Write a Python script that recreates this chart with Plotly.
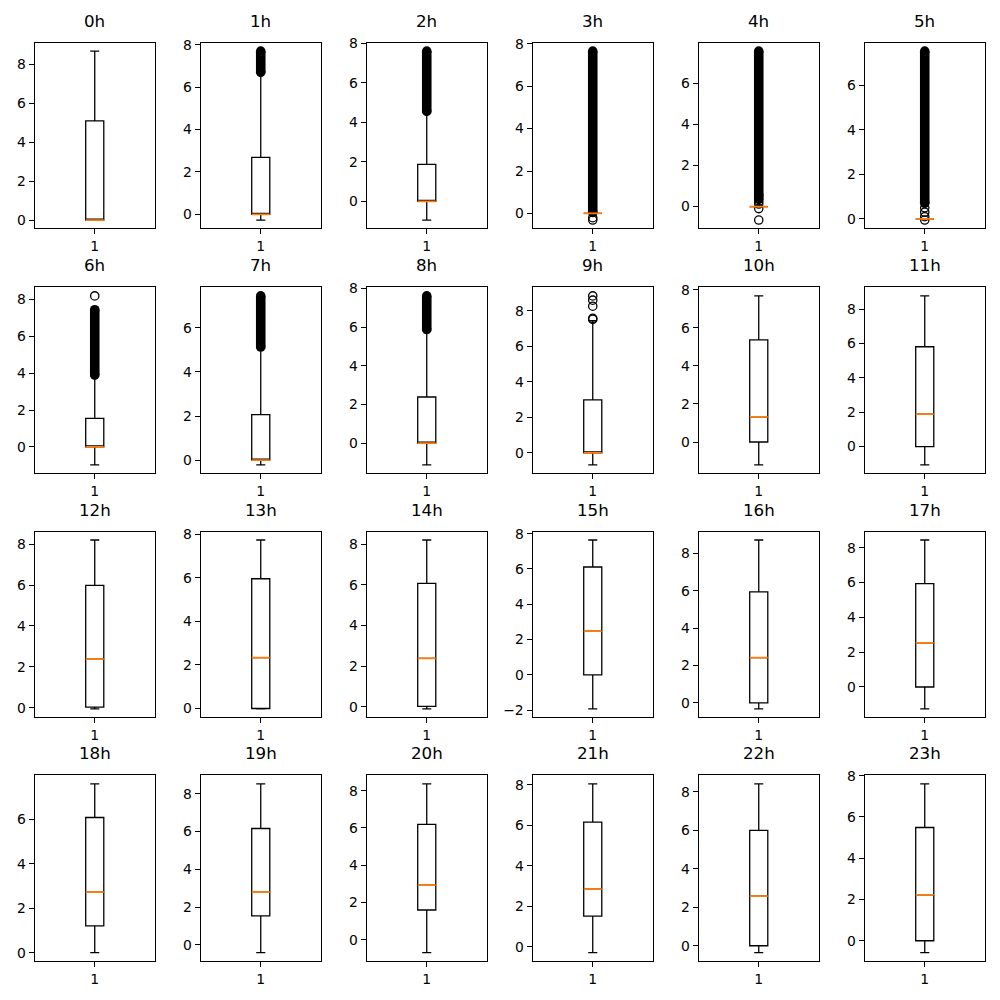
import plotly.graph_objects as go

hours = [f"{h}h" for h in range(24)]

lower_whisker = [0.00, -0.27, -0.95, 0.00, 0.00, 0.00, -0.97, -0.21, -1.12, -0.67, -1.20, -1.06,
                 -0.05, -0.02, -0.10, -1.93, -0.32, -1.26, 0.00, -0.42, -0.69, -0.29, -0.36, -0.58]
q1 = [0, 0, 0, 0, 0, 0, 0, 0, 0, 0, 0, 0,
      0.04, 0, 0.02, 0, 0, 0, 1.21, 1.53, 1.60, 1.52, 0, 0]
median = [0, 0, 0, 0, 0, 0, 0, 0, 0, 0, 1.32, 1.89,
          2.38, 2.34, 2.38, 2.48, 2.43, 2.54, 2.73, 2.79, 2.93, 2.85, 2.58, 2.22]
q3 = [5.08, 2.69, 1.87, 0, 0, 0, 1.55, 2.07, 2.39, 2.99, 5.37, 5.81,
      5.98, 5.96, 6.07, 6.11, 5.94, 5.94, 6.09, 6.16, 6.19, 6.16, 5.99, 5.49]
upper_whisker = [8.66, 6.65, 4.50, 0, 0, 0, 3.85, 5.08, 5.83, 7.45, 7.68, 8.77,
                 8.20, 7.74, 8.20, 7.64, 8.72, 8.45, 7.61, 8.53, 8.37, 8.05, 8.41, 7.61]

# dense outlier clouds (min, max of the densely packed flier column)
outlier_band_lo = [None, 6.70, 4.55, 0.05, 0.35, 0.70, 3.90, 5.13, 5.88] + [None] * 15
outlier_band_hi = [None, 7.70, 7.60, 7.65, 7.58, 7.52, 7.45, 7.45, 7.62] + [None] * 15
# isolated outliers
outliers = [[], [], [], [-0.31, -0.20], [0.55, 0.25, 0.12, -0.10, -0.66], [0.50, 0.30, 0.10, -0.05],
            [8.20], [], [], [7.52, 7.58, 8.26, 8.60, 8.84], [], [],
            [], [], [], [], [], [], [], [], [], [], [], []]

W, H = 1000, 1000
col_left = [34.5, 200.5, 366.5, 532.5, 698.5, 864.5]
ax_w = 120.5
row_top = [35.0, 282.0, 528.3, 774.3]
ax_h = 187.5
BOX_W = 0.15

fig = go.Figure()
annotations = []
layout = {}
for i in range(24):
    r, c = divmod(i, 6)
    n = i + 1
    xa = "x" if n == 1 else f"x{n}"
    ya = "y" if n == 1 else f"y{n}"
    xkey = "xaxis" if n == 1 else f"xaxis{n}"
    ykey = "yaxis" if n == 1 else f"yaxis{n}"

    vals = [lower_whisker[i], upper_whisker[i]] + outliers[i]
    if outlier_band_lo[i] is not None:
        vals += [outlier_band_lo[i], outlier_band_hi[i]]
    lo, hi = min(vals), max(vals)
    span = hi - lo
    yr = [lo - 0.05 * span, hi + 0.05 * span]

    fig.add_trace(go.Box(
        x=[1], q1=[q1[i]], median=[median[i]], q3=[q3[i]],
        lowerfence=[lower_whisker[i]], upperfence=[upper_whisker[i]],
        width=BOX_W, whiskerwidth=0.5, boxpoints=False,
        line=dict(color="black", width=1.3), fillcolor="rgba(255,255,255,0)",
        xaxis=xa, yaxis=ya, showlegend=False, hoverinfo="skip"))

    if outlier_band_lo[i] is not None:
        fig.add_trace(go.Scatter(
            x=[1, 1], y=[outlier_band_lo[i], outlier_band_hi[i]], mode="lines+markers",
            line=dict(color="black", width=9.6),
            marker=dict(symbol="circle", size=9.6, color="black"),
            xaxis=xa, yaxis=ya, showlegend=False, hoverinfo="skip"))
    if outliers[i]:
        fig.add_trace(go.Scatter(
            x=[1] * len(outliers[i]), y=outliers[i], mode="markers",
            marker=dict(symbol="circle-open", size=8.3, color="black", line=dict(width=1.3)),
            xaxis=xa, yaxis=ya, showlegend=False, hoverinfo="skip"))

    fig.add_trace(go.Scatter(
        x=[1 - BOX_W / 2, 1 + BOX_W / 2], y=[median[i], median[i]], mode="lines",
        line=dict(color="#ff7f0e", width=1.7),
        xaxis=xa, yaxis=ya, showlegend=False, hoverinfo="skip"))

    x0 = col_left[c] / W
    x1 = (col_left[c] + ax_w) / W
    y1 = 1 - row_top[r] / H
    y0 = 1 - (row_top[r] + ax_h) / H
    common = dict(showline=True, mirror=True, linecolor="black", linewidth=1,
                  ticks="outside", ticklen=5, tickwidth=1, tickcolor="black",
                  showgrid=False, zeroline=False,
                  tickfont=dict(family="DejaVu Sans", size=13.9, color="black"))
    layout[xkey] = dict(domain=[x0, x1], range=[0.5, 1.5], tickmode="array",
                        tickvals=[1], ticktext=["1"], anchor=ya, **common)
    layout[ykey] = dict(domain=[y0, y1], range=yr, tick0=0, dtick=2, anchor=xa, **common)

    annotations.append(dict(text=hours[i], x=(x0 + x1) / 2, y=y1, xref="paper", yref="paper",
                            xanchor="center", yanchor="bottom", yshift=10, showarrow=False,
                            font=dict(family="DejaVu Sans", size=16.7, color="black")))

fig.update_layout(width=W, height=H, margin=dict(l=0, r=0, t=0, b=0),
                  paper_bgcolor="white", plot_bgcolor="white",
                  annotations=annotations, **layout)
fig.write_html("out.html")
